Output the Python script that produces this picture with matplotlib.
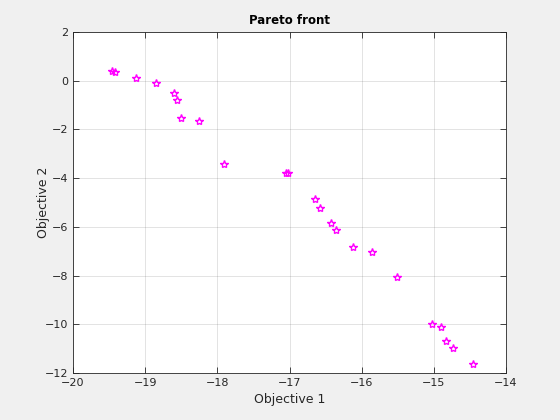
import numpy as np
import matplotlib.pyplot as plt

# Pareto front points (objective 1, objective 2)
obj1 = [-19.46, -19.42, -19.13, -18.85, -18.60, -18.56, -18.50, -18.25, -17.91,
        -17.05, -17.02, -16.65, -16.58, -16.43, -16.36, -16.12, -15.86, -15.51,
        -15.03, -14.90, -14.83, -14.73, -14.46]
obj2 = [0.38, 0.35, 0.10, -0.09, -0.50, -0.80, -1.55, -1.67, -3.43,
        -3.79, -3.79, -4.87, -5.24, -5.85, -6.13, -6.84, -7.03, -8.06,
        -9.98, -10.11, -10.70, -10.98, -11.63]

plt.rcParams['font.family'] = 'DejaVu Sans'
fig = plt.figure(figsize=(5.6, 4.2), dpi=100, facecolor='#f0f0f0')
ax = fig.add_axes([0.1304, 0.1119, 0.7732, 0.8119])
ax.set_facecolor('white')

ax.plot(obj1, obj2, linestyle='none', marker='*', markersize=6,
        markerfacecolor='none', markeredgecolor='#ff00ff', markeredgewidth=1.0)

ax.set_xlim(-20, -14)
ax.set_ylim(-12, 2)
ax.set_xticks(np.arange(-20, -13, 1))
ax.set_yticks(np.arange(-12, 3, 2))
ax.grid(True, color='#262626', alpha=0.15, linewidth=0.6)
ax.set_axisbelow(True)
ax.tick_params(direction='in', top=True, right=True, labelsize=8,
               colors='#262626', length=4, width=0.6)
for s in ax.spines.values():
    s.set_color('#262626')
    s.set_linewidth(0.6)

ax.set_xlabel('Objective 1', fontsize=9, color='#262626')
ax.set_ylabel('Objective 2', fontsize=9, color='#262626', labelpad=-4)
ax.set_title('Pareto front', fontsize=8.5, fontweight='bold', color='black')

fig.savefig('out.png', dpi=100, facecolor=fig.get_facecolor())
